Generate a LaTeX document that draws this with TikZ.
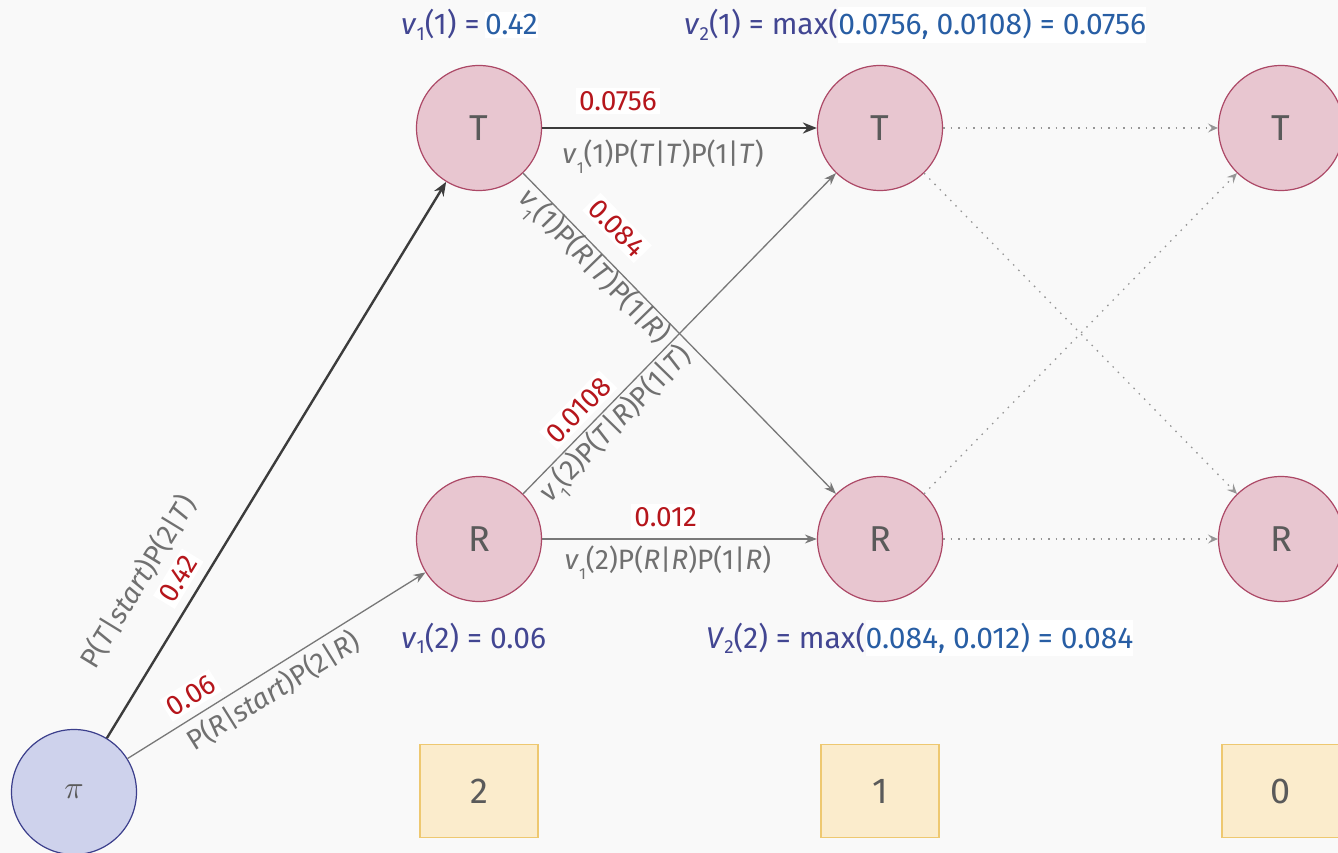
\documentclass[tikz,border=0pt]{standalone}
\usepackage{graphicx}
\usepackage{fontspec}
\setmainfont{Fira Sans}
\usetikzlibrary{arrows.meta}

\definecolor{bgcol}{RGB}{249,249,249}
\definecolor{statefill}{RGB}{232,198,208}
\definecolor{stateedge}{RGB}{172,72,102}
\definecolor{startfill}{RGB}{206,210,236}
\definecolor{startedge}{RGB}{60,63,140}
\definecolor{boxfill}{RGB}{251,236,204}
\definecolor{boxedge}{RGB}{238,200,112}
\definecolor{nodetxt}{RGB}{90,90,90}
\definecolor{termgray}{RGB}{112,112,112}
\definecolor{probred}{RGB}{182,22,28}
\definecolor{indigo}{RGB}{66,70,146}
\definecolor{numblue}{RGB}{40,94,164}
\definecolor{darkline}{RGB}{60,60,60}
\definecolor{midline}{RGB}{120,120,120}
\definecolor{dotline}{RGB}{150,150,150}

% lowered subscript for the v terms on the edges
\newcommand\lowsub[1]{\raisebox{-0.35em}{\fontsize{16}{16}\selectfont #1}}
\newcommand\topsub[1]{\raisebox{-0.18em}{\fontsize{19}{19}\selectfont #1}}

\tikzset{
  state/.style={circle, draw=stateedge, fill=statefill, line width=1.2pt,
    minimum size=125pt, inner sep=0pt, text=nodetxt, font=\fontsize{36}{40}\selectfont},
  startstate/.style={circle, draw=startedge, fill=startfill, line width=1.2pt,
    minimum size=125pt, inner sep=0pt, text=nodetxt},
  stepbox/.style={rectangle, draw=boxedge, fill=boxfill, line width=1.2pt,
    minimum width=118pt, minimum height=93pt, inner sep=0pt, text=nodetxt,
    font=\fontsize{36}{40}\selectfont},
  strong/.style={draw=darkline, line width=2.4pt, -{Stealth[length=14pt,width=11pt]}},
  weak/.style={draw=midline, line width=1.3pt, -{Stealth[length=12pt,width=9pt]}},
  future/.style={draw=dotline, line width=1.3pt, dash pattern=on 1.5pt off 6pt,
    -{Stealth[length=10pt,width=9pt,inset=4pt]}},
  prob/.style={text=probred, fill=white, inner sep=3pt, font=\fontsize{28}{30}\selectfont},
  term/.style={text=termgray, inner sep=0pt, font=\fontsize{28}{30}\selectfont},
  vlabel/.style={anchor=base west, inner xsep=0pt, inner ysep=3pt, text=indigo, font=\fontsize{30}{34}\selectfont},
  vnum/.style={anchor=base west, inner xsep=0pt, inner ysep=3pt, text=numblue, fill=white, font=\fontsize{30}{34}\selectfont},
}

\begin{document}
\begin{tikzpicture}[x=1pt, y=-1pt]
  \useasboundingbox (0,0) rectangle (1338,853);
  \fill[bgcol] (0,0) rectangle (1338,853);
  \clip (0,0) rectangle (1338,853);

  % trellis states
  \node[startstate] (pi) at (74,792) {\scalebox{3.2}{$\pi$}};
  \node[state] (t1) at (479,128) {T};
  \node[state] (r1) at (479,539) {R};
  \node[state] (t2) at (880,128) {T};
  \node[state] (r2) at (880,539) {R};
  \node[state] (t3) at (1281,128) {T};
  \node[state] (r3) at (1281,539) {R};

  % time steps
  \node[stepbox] (s2) at (479,791) {2};
  \node[stepbox] (s1) at (880,791) {1};
  \node[stepbox] (s0) at (1281,791) {0};

  % initial transitions
  \draw[strong] (pi) -- (t1)
    node[term, pos=0.23, sloped, yshift=55pt] {P(\textit{T}|\textit{start})P(2|\textit{T})}
    node[prob, pos=0.266, sloped, yshift=22pt] {0.42};
  \draw[weak] (pi) -- (r1)
    node[prob, pos=0.248, sloped, yshift=20pt] {0.06}
    node[term, pos=0.453, sloped, yshift=-20pt] {P(\textit{R}|\textit{start})P(2|\textit{R})};

  % second step transitions
  \draw[strong] (t1) -- (t2)
    node[prob, pos=0.276, yshift=27pt] {0.0756}
    node[term, pos=0.44, yshift=-29pt] {\textit{v}\lowsub{1}(1)P(\textit{T}|\textit{T})P(1|\textit{T})};
  \draw[weak] (r1) -- (r2)
    node[prob, pos=0.45, yshift=22pt] {0.012}
    node[term, pos=0.458, yshift=-24pt] {\textit{v}\lowsub{1}(2)P(\textit{R}|\textit{R})P(1|\textit{R})};
  \draw[weak] (t1) -- (r2)
    node[prob, pos=0.234, sloped, yshift=29pt] {0.084}
    node[term, pos=0.26, sloped, yshift=-16pt] {\textit{v}\lowsub{1}(1)P(\textit{R}|\textit{T})P(1|\textit{R})};
  \draw[weak] (r1) -- (t2)
    node[prob, pos=0.22, sloped, yshift=19pt] {0.0108}
    node[term, pos=0.255, sloped, yshift=-19pt] {\textit{v}\lowsub{1}(2)P(\textit{T}|\textit{R})P(1|\textit{T})};

  % remaining transitions
  \draw[future] (t2) -- (t3);
  \draw[future] (t2) -- (r3);
  \draw[future] (r2) -- (t3);
  \draw[future] (r2) -- (r3);

  % viterbi values
  \node[vlabel] (v11) at (401,35) {\textit{v}\topsub{1}(1) =\,};
  \node[vnum] (v11n) at (v11.base east) {0.42};
  \node[vlabel] (v21) at (684,35) {\textit{v}\topsub{2}(1) = max(};
  \node[vnum] (v21n) at (v21.base east) {0.0756, 0.0108) = 0.0756};
  \node[vlabel] (v12) at (401,648) {\textit{v}\topsub{1}(2) = 0.06};
  \node[vlabel] (v22) at (706,648) {\textit{V}\topsub{2}(2) = max(};
  \node[vnum] (v22n) at (v22.base east) {0.084, 0.012) = 0.084};
\end{tikzpicture}
\end{document}
